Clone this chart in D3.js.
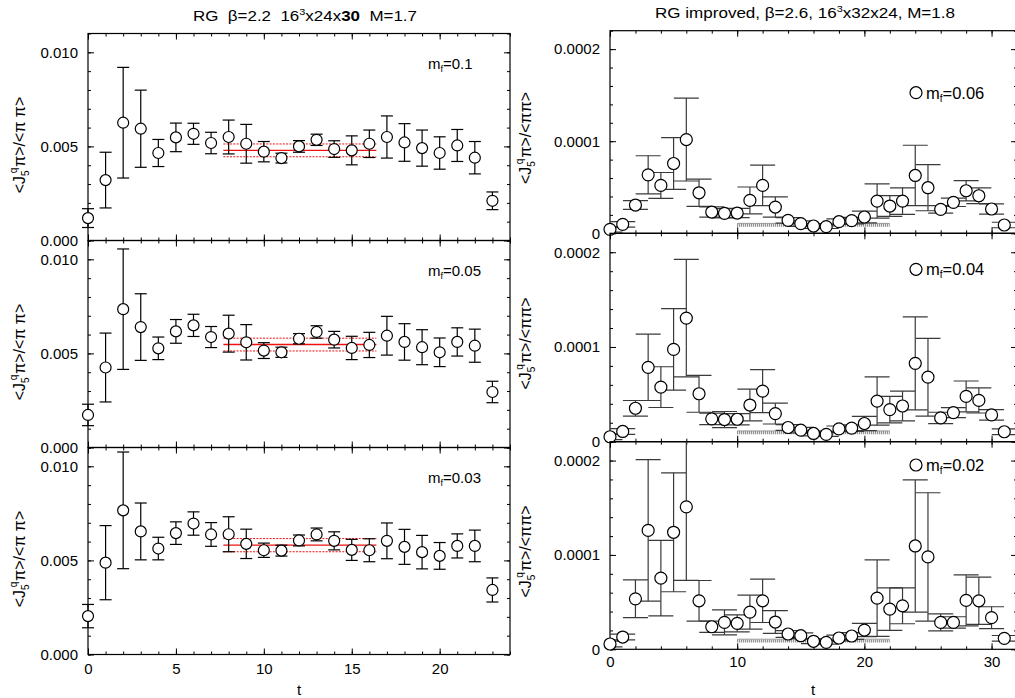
<!DOCTYPE html>
<html><head><meta charset="utf-8">
<script src="https://cdn.jsdelivr.net/npm/d3@7"></script>
<style>
body{margin:0;background:#fff}
svg{display:block;font-family:"Liberation Sans",Arial,Helvetica,sans-serif}
</style></head><body>
<svg id="c" width="1015" height="698"></svg>
<script>
// ---------------- data ----------------
// left figure: RG beta=2.2, values in units of 1e-3
const tLeft = d3.range(0, 24);
const leftMasses = ["0.1", "0.05", "0.03"];
const left01    = [1.19,3.21,6.26,5.94,4.65,5.48,5.67,5.18,5.50,5.14,4.72,4.38,5.00,5.35,4.86,4.79,5.14,5.50,5.21,4.91,4.65,5.05,4.40,2.11];
const left01Err = [0.50,1.48,2.94,2.05,0.72,0.76,0.56,0.57,0.90,1.03,0.54,0.26,0.31,0.30,0.44,0.77,0.73,1.12,1.00,0.96,0.86,0.85,0.86,0.47];
const left005    = [1.73,4.25,7.35,6.40,5.27,6.17,6.49,5.87,6.05,5.59,5.15,5.06,5.78,6.14,5.73,5.29,5.45,5.94,5.61,5.33,5.06,5.61,5.41,2.95];
const left005Err = [0.57,1.83,3.20,1.77,0.60,0.63,0.59,0.56,0.98,0.94,0.42,0.27,0.27,0.33,0.44,0.62,0.67,1.03,0.97,0.93,0.76,0.75,0.88,0.57];
const left003    = [2.04,4.88,7.66,6.54,5.63,6.45,6.96,6.38,6.39,5.88,5.54,5.52,6.06,6.38,6.04,5.56,5.54,6.04,5.72,5.44,5.24,5.77,5.77,3.43];
const left003Err = [0.62,1.97,3.10,1.51,0.60,0.60,0.62,0.63,0.93,0.78,0.38,0.29,0.29,0.34,0.48,0.56,0.61,0.95,0.93,0.89,0.71,0.64,0.84,0.64];
const leftFit    = [4.79, 5.47, 5.81];
const leftFitErr = [0.34, 0.34, 0.35];
const leftFitRange = [7.7, 16.4];
const leftYTicks = [0, 5, 10];
const leftYTickLabels = ["0.000", "0.005", "0.010"];
const leftXTicks = [0, 5, 10, 15, 20];

// right figure: RG improved beta=2.6, values in units of 1e-5
const tRight = d3.range(0, 32);
const rightMasses = ["0.06", "0.04", "0.02"];
const right006    = [0.43,0.97,3.07,6.35,5.20,7.58,10.18,4.40,2.31,2.17,2.20,3.57,5.20,2.85,1.41,1.05,0.79,0.72,1.26,1.37,1.77,3.50,2.96,3.50,6.28,4.95,2.60,3.36,4.62,4.08,2.64,0.90];
const right006Err = [0.30,0.30,0.47,2.07,1.40,2.80,4.50,1.48,0.55,0.50,0.50,1.46,2.20,1.10,0.30,0.30,0.25,0.20,0.30,0.35,0.63,1.86,1.13,1.44,3.28,2.50,0.40,0.45,1.10,0.85,0.55,0.30];
const right004    = [0.52,1.08,3.53,7.85,5.76,9.74,13.05,5.06,2.41,2.34,2.37,3.87,5.34,2.97,1.50,1.22,0.87,0.77,1.36,1.43,1.92,4.29,3.39,3.77,8.27,6.81,2.51,3.07,4.78,4.36,2.83,1.05];
const right004Err = [0.30,0.30,0.82,3.50,2.15,4.30,6.20,1.95,0.60,0.85,0.60,1.67,2.27,1.10,0.30,0.30,0.25,0.20,0.30,0.35,0.75,2.55,1.40,1.57,4.90,4.10,0.60,0.53,1.63,1.33,0.55,0.30];
const right002    = [0.56,1.30,5.35,12.60,7.54,12.40,15.10,5.14,2.39,2.85,2.75,3.94,5.14,2.89,1.62,1.44,0.85,0.74,1.20,1.41,2.04,5.42,4.26,4.61,10.95,9.79,2.85,2.85,5.18,5.14,3.35,1.16];
const right002Err = [0.30,0.30,2.00,7.50,4.00,6.30,7.80,2.15,0.60,1.32,0.90,1.80,2.30,1.20,0.35,0.30,0.25,0.20,0.30,0.35,0.70,4.05,2.25,1.90,7.00,6.80,0.90,0.60,2.70,2.50,1.16,0.30];
const rightBand = [0.88, 0.95, 0.88];
const rightBandRange = [10, 22];
const rightYTicks = [0, 10, 20];
const rightYTickLabels = ["0", "0.0001", "0.0002"];
const rightXTicks = [0, 10, 20, 30];

// ---------------- layout ----------------
const svg = d3.select("#c");
svg.append("rect").attr("width",1015).attr("height",698).attr("fill","#fff");
const FS = 15;

const leftSeries = [[left01,left01Err],[left005,left005Err],[left003,left003Err]];
const rightSeries = [[right006,right006Err],[right004,right004Err],[right002,right002Err]];

const LX = [88, 510];
const LB = [[33.5,240.5],[240.5,447.5],[447.5,654.5]];
const RX = [610, 1017];
const RB = [[30.7,233.3],[233.3,441.7],[441.7,649.3]];
const rightLegendY = [92.7, 269.3, 465];

function styleAxis(g){
  g.select(".domain").remove();
  g.attr("font-family", null).attr("font-size", FS);
  g.selectAll("line").attr("stroke","#000").attr("stroke-width",1);
  g.selectAll("text").attr("fill","#000");
}

function addAxes(g, x, y, xTicks, xMinor, yTicks, yMinor, yLabels, showXLabels, padX){
  const [x0,x1] = x.range(); const [yb,yt] = y.range();
  g.append("g").attr("transform",`translate(0,${yb})`)
    .call(d3.axisBottom(x).tickValues(xTicks).tickSize(-6).tickPadding(padX)
      .tickFormat(showXLabels ? d3.format("d") : ""))
    .call(styleAxis);
  g.append("g").attr("transform",`translate(0,${yb})`)
    .call(d3.axisBottom(x).tickValues(xMinor).tickSize(-3).tickFormat("")).call(styleAxis);
  g.append("g").attr("transform",`translate(0,${yt})`)
    .call(d3.axisTop(x).tickValues(xTicks).tickSize(-6).tickFormat("")).call(styleAxis);
  g.append("g").attr("transform",`translate(0,${yt})`)
    .call(d3.axisTop(x).tickValues(xMinor).tickSize(-3).tickFormat("")).call(styleAxis);
  g.append("g").attr("transform",`translate(${x0},0)`)
    .call(d3.axisLeft(y).tickValues(yTicks).tickSize(-6).tickPadding(10)
      .tickFormat((d,i)=>yLabels[i])).call(styleAxis);
  g.append("g").attr("transform",`translate(${x0},0)`)
    .call(d3.axisLeft(y).tickValues(yMinor).tickSize(-3).tickFormat("")).call(styleAxis);
  g.append("g").attr("transform",`translate(${x1},0)`)
    .call(d3.axisRight(y).tickValues(yTicks).tickSize(-6).tickFormat("")).call(styleAxis);
  g.append("g").attr("transform",`translate(${x1},0)`)
    .call(d3.axisRight(y).tickValues(yMinor).tickSize(-3).tickFormat("")).call(styleAxis);
  g.append("rect").attr("x",x0).attr("y",yt).attr("width",x1-x0).attr("height",yb-yt)
    .attr("fill","none").attr("stroke","#000").attr("stroke-width",1.2);
}

function yLabel(g, xBase, yc, tail){
  const t = g.append("text").attr("transform",`translate(${xBase},${yc}) rotate(-90)`)
    .attr("text-anchor","middle").attr("font-size",16).attr("fill","#000");
  t.append("tspan").text("<J");
  t.append("tspan").attr("font-size",10).attr("dy",4).text("5");
  t.append("tspan").attr("font-size",10).attr("dx",-3).attr("dy",-12).text("q");
  t.append("tspan").attr("dy",8).attr("dx",1).text(tail);
}

// ---------------- left figure ----------------
const ltitle = svg.append("text").attr("x",193).attr("y",20.5).attr("font-size",14)
  .attr("style","white-space:pre").attr("textLength",224).attr("lengthAdjust","spacingAndGlyphs");
ltitle.append("tspan").text("RG  β=2.2  16");
ltitle.append("tspan").attr("font-size",9).attr("dy",-6).text("3");
ltitle.append("tspan").attr("dy",6).text("x24x");
ltitle.append("tspan").attr("font-weight","bold").text("30");
ltitle.append("tspan").text("  M=1.7");

leftSeries.forEach(([vals, errs], p) => {
  const g = svg.append("g");
  const x = d3.scaleLinear().domain([0,24]).range(LX);
  const y = d3.scaleLinear().domain([0,11]).range([LB[p][1], LB[p][0]]);
  addAxes(g, x, y, leftXTicks, d3.range(0,25), leftYTicks, d3.range(0,12), leftYTickLabels, p===2, 9);
  const f = leftFit[p], fe = leftFitErr[p];
  [[f-fe,"2,1.3",1],[f+fe,"2,1.3",1],[f,null,1.4]].forEach(([v,dash,w])=>{
    g.append("line").attr("x1",x(leftFitRange[0])).attr("x2",x(leftFitRange[1]))
      .attr("y1",y(v)).attr("y2",y(v)).attr("stroke","#f01010").attr("stroke-width",w)
      .attr("stroke-dasharray",dash);
  });
  const eb = g.append("g").attr("stroke","#000").attr("stroke-width",1.2);
  tLeft.forEach((t,i)=>{
    const cx = x(t), lo = y(vals[i]-errs[i]), hi = y(vals[i]+errs[i]);
    eb.append("line").attr("x1",cx).attr("x2",cx).attr("y1",lo).attr("y2",hi);
    eb.append("line").attr("x1",cx-6).attr("x2",cx+6).attr("y1",lo).attr("y2",lo);
    eb.append("line").attr("x1",cx-6).attr("x2",cx+6).attr("y1",hi).attr("y2",hi);
  });
  g.append("g").selectAll("circle").data(tLeft).join("circle")
    .attr("cx",d=>x(d)).attr("cy",(d,i)=>y(vals[i])).attr("r",5.5)
    .attr("fill","#fff").attr("stroke","#000").attr("stroke-width",1.2);
  const m = g.append("text").attr("x",428).attr("y",LB[p][0]+35).attr("font-size",15);
  m.append("tspan").text("m");
  m.append("tspan").attr("font-size",9).attr("dy",3).text("f");
  m.append("tspan").attr("dy",-3).text("=" + leftMasses[p]);
  yLabel(g, 25, (LB[p][0]+LB[p][1])/2 + 8, "π>/<π π>");
});
svg.append("text").attr("x",299).attr("y",695).attr("text-anchor","middle").attr("font-size",15).text("t");

// ---------------- right figure ----------------
const rtitle = svg.append("text").attr("x",655).attr("y",17.5).attr("font-size",14)
  .attr("textLength",300).attr("lengthAdjust","spacingAndGlyphs");
rtitle.append("tspan").text("RG improved, β=2.6, 16");
rtitle.append("tspan").attr("font-size",9).attr("dy",-6).text("3");
rtitle.append("tspan").attr("dy",6).text("x32x24, M=1.8");

const defs = svg.append("defs");
rightSeries.forEach(([vals, errs], p) => {
  const g = svg.append("g");
  const x = d3.scaleLinear().domain([0,32]).range(RX);
  const y = d3.scaleLinear().domain([0,22]).range([RB[p][1], RB[p][0]]);
  defs.append("clipPath").attr("id","rc"+p).append("rect")
    .attr("x",RX[0]).attr("y",RB[p][0]).attr("width",RX[1]-RX[0]).attr("height",RB[p][1]-RB[p][0]);
  addAxes(g, x, y, rightXTicks, d3.range(0,33,2), rightYTicks, d3.range(0,23,2), rightYTickLabels, p===2, 7.5);
  const pg = g.append("g").attr("clip-path",`url(#rc${p})`);
  const by = y(rightBand[p]);
  pg.append("line").attr("x1",x(rightBandRange[0])).attr("x2",x(rightBandRange[1]))
    .attr("y1",by).attr("y2",by).attr("stroke","#7a7a7a").attr("stroke-width",3.2)
    .attr("stroke-dasharray","1,1");
  pg.append("line").attr("x1",x(rightBandRange[0])).attr("x2",x(rightBandRange[1]))
    .attr("y1",by-1.8).attr("y2",by-1.8).attr("stroke","#888").attr("stroke-width",0.8);
  const eb = pg.append("g").attr("stroke","#3a3a3a").attr("stroke-width",1.2);
  tRight.forEach((t,i)=>{
    const cx = x(t), lo = y(vals[i]-errs[i]), hi = y(vals[i]+errs[i]);
    eb.append("line").attr("x1",cx).attr("x2",cx).attr("y1",lo).attr("y2",hi);
    eb.append("line").attr("x1",cx-12.5).attr("x2",cx+12.5).attr("y1",lo).attr("y2",lo);
    eb.append("line").attr("x1",cx-12.5).attr("x2",cx+12.5).attr("y1",hi).attr("y2",hi);
  });
  g.append("g").selectAll("circle").data(tRight).join("circle")
    .attr("cx",d=>x(d)).attr("cy",(d,i)=>y(vals[i])).attr("r",6)
    .attr("fill","#fff").attr("stroke","#000").attr("stroke-width",1.2);
  const ly = rightLegendY[p];
  g.append("circle").attr("cx",916).attr("cy",ly).attr("r",6)
    .attr("fill","#fff").attr("stroke","#000").attr("stroke-width",1.2);
  const m = g.append("text").attr("x",926).attr("y",ly+6).attr("font-size",16.5);
  m.append("tspan").text("m");
  m.append("tspan").attr("font-size",10).attr("dy",3).text("f");
  m.append("tspan").attr("dy",-3).text("=" + rightMasses[p]);
  yLabel(g, 531, (RB[p][0]+RB[p][1])/2 + 6, "π>/<ππ>");
});
svg.append("text").attr("x",813).attr("y",695).attr("text-anchor","middle").attr("font-size",15).text("t");
</script>
</body></html>
